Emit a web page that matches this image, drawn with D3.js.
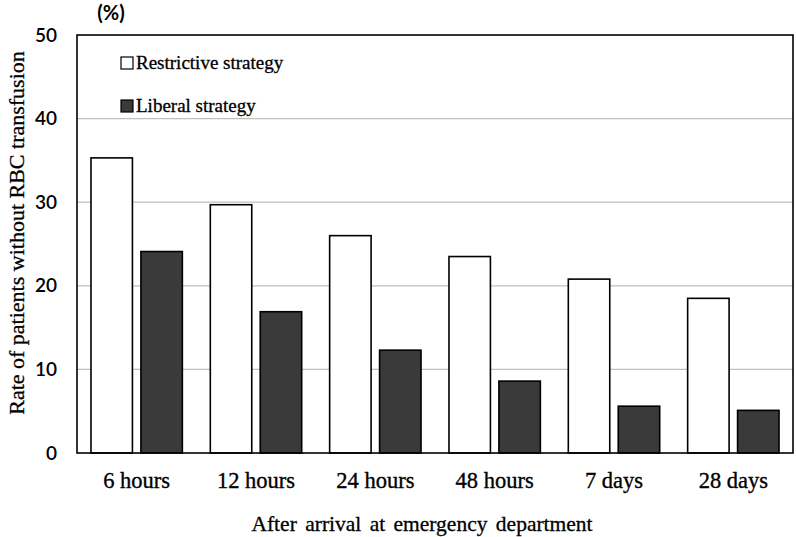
<!DOCTYPE html>
<html><head><meta charset="utf-8">
<script src="https://cdn.jsdelivr.net/npm/d3@7"></script>
<style>body{margin:0;background:#fff}svg{display:block}</style>
</head><body>
<svg id="c" width="796" height="537"></svg>
<script>
const categories = ["6 hours","12 hours","24 hours","48 hours","7 days","28 days"];
const seriesNames = ["Restrictive strategy","Liberal strategy"];
const restrictive = [35.3, 29.7, 26.0, 23.5, 20.8, 18.5];
const liberal = [24.1, 16.9, 12.3, 8.6, 5.6, 5.1];
const yTicks = [0,10,20,30,40,50];

const fills = ["#ffffff","#3a3a3a"];
const svg = d3.select("#c");
const L = 77, R = 793, T = 35, B = 453;
const serif = "'Liberation Serif','Times New Roman',serif";
const sans = "Lato,'Liberation Sans',Arial,sans-serif";

const x0 = d3.scaleBand().domain(categories).range([L, R]).padding(0);
const x1 = d3.scaleBand().domain(seriesNames).range([0, x0.bandwidth()]).paddingInner(0.17).paddingOuter(0.28);
const y = d3.scaleLinear().domain([0,50]).range([B, T]);

// gridlines
svg.append("g").selectAll("line").data(yTicks.filter(t=>t>0 && t<50)).join("line")
  .attr("x1", L).attr("x2", R).attr("y1", d=>y(d)).attr("y2", d=>y(d))
  .attr("stroke", "#bfbfbf").attr("stroke-width", 1.2);

// bars
const data = categories.map((c,i)=>({c, vals:[restrictive[i], liberal[i]]}));
const g = svg.append("g").selectAll("g").data(data).join("g")
  .attr("transform", d=>`translate(${x0(d.c)},0)`);
g.selectAll("rect").data(d=>d.vals.map((v,j)=>({v, s:seriesNames[j], j}))).join("rect")
  .attr("x", d=>x1(d.s)).attr("width", x1.bandwidth())
  .attr("y", d=>y(d.v)).attr("height", d=>B - y(d.v))
  .attr("fill", d=>fills[d.j]).attr("stroke", "#000").attr("stroke-width", 1.6);

// frame
svg.append("rect").attr("x", L).attr("y", T).attr("width", R-L).attr("height", B-T)
  .attr("fill","none").attr("stroke","#000").attr("stroke-width",1.6);

// y axis ticks
const yAxis = d3.axisLeft(y).tickValues(yTicks).tickSize(0).tickPadding(20);
const ya = svg.append("g").attr("transform", `translate(${L},0)`).call(yAxis);
ya.select(".domain").remove();
ya.selectAll("text").attr("font-family", sans).attr("font-size", 19).attr("font-weight", 600).attr("fill","#000");

// x axis
const xAxis = d3.axisBottom(x0).tickSize(0).tickPadding(19);
const xa = svg.append("g").attr("transform", `translate(0,${B})`).call(xAxis);
xa.select(".domain").remove();
xa.selectAll("text").attr("font-family", serif).attr("font-size", 22.5).attr("fill","#000")
  .attr("stroke","#000").attr("stroke-width",0.35);

// titles
svg.append("text").attr("x", 111).attr("y", 20).attr("text-anchor","middle")
  .attr("font-family", sans).attr("font-size", 20).attr("font-weight", 700).text("(%)");
svg.append("text").attr("transform", "translate(24,233) rotate(-90)").attr("text-anchor","middle")
  .attr("font-family", serif).attr("font-size", 22).attr("stroke","#000").attr("stroke-width",0.3)
  .text("Rate of patients without RBC transfusion");
svg.append("text").attr("x", 422).attr("y", 531).attr("text-anchor","middle")
  .attr("font-family", serif).attr("font-size", 21.5).attr("word-spacing", 3)
  .attr("stroke","#000").attr("stroke-width",0.3).text("After arrival at emergency department");

// legend
const lg = svg.append("g").selectAll("g").data(seriesNames).join("g")
  .attr("transform", (d,i)=>`translate(121,${63 + i*43})`);
lg.append("rect").attr("x",0).attr("y",-6).attr("width",12).attr("height",12)
  .attr("fill",(d,i)=>fills[i]).attr("stroke","#000").attr("stroke-width",1.2);
lg.append("text").attr("x",15).attr("y",6).attr("font-family", serif).attr("font-size",19)
  .attr("stroke","#000").attr("stroke-width",0.3).text(d=>d);
</script>
</body></html>
